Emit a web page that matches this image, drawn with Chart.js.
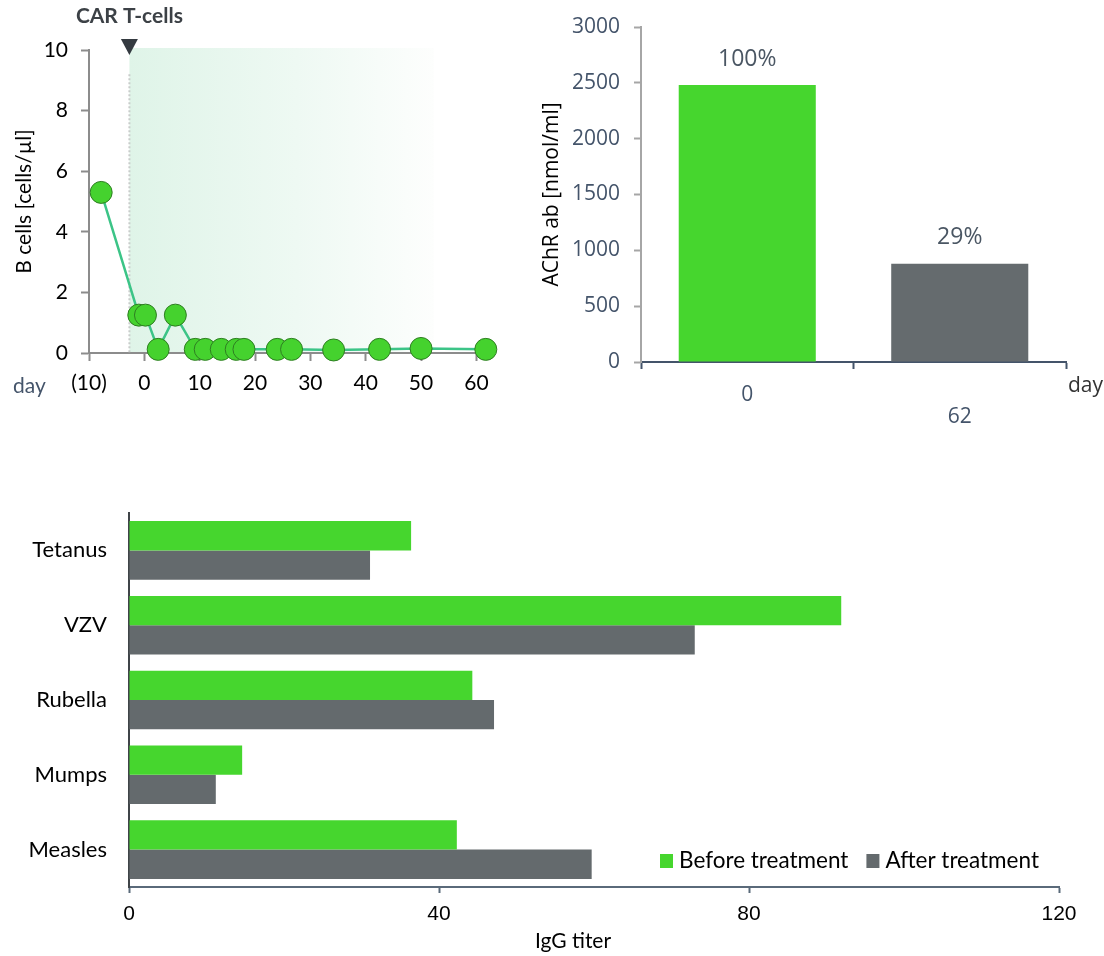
<!DOCTYPE html>
<html>
<head>
<meta charset="utf-8">
<script src="https://cdn.jsdelivr.net/npm/chart.js@4.4.1/dist/chart.umd.min.js"></script>
<style>
  html, body { margin: 0; padding: 0; background: #ffffff; }
  body { width: 1104px; height: 956px; position: relative; overflow: hidden; }
  canvas { position: absolute; display: block; }
  #bcells { left: 0; top: 0; }
  #achr { left: 520px; top: 0; }
  #igg { left: 0; top: 490px; }
</style>
</head>
<body>
<canvas id="bcells" width="520" height="400"></canvas>
<canvas id="achr" width="584" height="440"></canvas>
<canvas id="igg" width="1104" height="466"></canvas>
<script>
// ---- B-cell counts around CAR T-cell infusion ----
const bcellDays   = [-7.8, -1, 0.2, 2.5, 5.6, 9.2, 11, 13.9, 16.6, 18, 24, 26.6, 34.2, 42.5, 50, 61.7];
const bcellCounts = [5.3, 1.25, 1.25, 0.12, 1.25, 0.12, 0.12, 0.12, 0.12, 0.12, 0.12, 0.12, 0.1, 0.12, 0.15, 0.12];
const dayTicks      = [-10, 0, 10, 20, 30, 40, 50, 60];
const dayTickLabels = ['(10)', '0', '10', '20', '30', '40', '50', '60'];
const carTDay = -2.7;      // infusion day (arrow + dotted line)
const shadeEndDay = 52.3;  // end of the shaded follow-up window

// ---- AChR antibodies ----
const achrDays    = ['0', '62'];
const achrValues  = [2480, 880];
const achrPercent = ['100%', '29%'];

// ---- Vaccine IgG titers ----
const vaccines   = ['Tetanus', 'VZV', 'Rubella', 'Mumps', 'Measles'];
const iggBefore  = [36.4, 91.9, 44.3, 14.6, 42.3];
const iggAfter   = [31.1, 73.0, 47.1, 11.2, 59.7];
const iggTicks   = [0, 40, 80, 120];

const GREEN = '#46d62e';
const GREY  = '#656b6e';
const SLATE = '#44546a';

// fixed axis boxes so every plot area lands where it should
const fixWidth = w => scale => {
  scale.width = w;
  scale.paddingTop = 0;
  scale.paddingBottom = 0;
};
const fixHeight = h => scale => {
  scale.height = h;
  scale.paddingLeft = 0;
  scale.paddingRight = 0;
};

function bcellChart() {
  const decor = {
    id: 'carTDecor',
    beforeDraw(chart) {
      const { ctx, scales: { x, y } } = chart;
      const x0 = x.getPixelForValue(carTDay), x1 = x.getPixelForValue(shadeEndDay);
      const yTop = y.getPixelForValue(10) - 2, yBot = y.getPixelForValue(0);
      const g = ctx.createLinearGradient(x0, 0, x1, 0);
      g.addColorStop(0, '#dff4e8');
      g.addColorStop(0.55, '#eef9f3');
      g.addColorStop(1, '#fdfefd');
      ctx.save();
      ctx.fillStyle = g;
      ctx.fillRect(x0, yTop, x1 - x0, yBot - yTop);
      ctx.restore();
    },
    beforeDatasetsDraw(chart) {
      const { ctx, scales: { x, y } } = chart;
      const xc = x.getPixelForValue(carTDay);
      ctx.save();
      ctx.strokeStyle = '#c9cccb';
      ctx.lineWidth = 2;
      ctx.setLineDash([2, 2]);
      ctx.beginPath();
      ctx.moveTo(xc, y.getPixelForValue(9.2));
      ctx.lineTo(xc, y.getPixelForValue(0));
      ctx.stroke();
      ctx.restore();
    },
    afterDraw(chart) {
      const { ctx, scales: { x, y } } = chart;
      const xc = x.getPixelForValue(carTDay);
      const yt = y.getPixelForValue(10);
      ctx.save();
      // infusion arrow
      ctx.fillStyle = '#343a40';
      ctx.beginPath();
      ctx.moveTo(xc - 8.5, yt - 11);
      ctx.lineTo(xc + 8.5, yt - 11);
      ctx.lineTo(xc, yt + 5);
      ctx.closePath();
      ctx.fill();
      ctx.font = 'bold 21px Lato';
      ctx.fillStyle = '#3c4146';
      ctx.textAlign = 'center';
      ctx.textBaseline = 'middle';
      ctx.fillText('CAR T-cells', xc, 16);
      ctx.font = '21px Lato';
      ctx.fillStyle = SLATE;
      ctx.textAlign = 'left';
      ctx.fillText('day', 13, 386);
      ctx.restore();
    }
  };

  new Chart(document.getElementById('bcells'), {
    type: 'line',
    data: {
      datasets: [{
        data: bcellDays.map((d, i) => ({ x: d, y: bcellCounts[i] })),
        borderColor: '#3cc487',
        borderWidth: 2.5,
        pointRadius: 11,
        pointBackgroundColor: '#45d22e',
        pointBorderColor: '#2e7d22',
        pointBorderWidth: 1,
        tension: 0,
        clip: false
      }]
    },
    options: {
      responsive: false,
      animation: false,
      layout: { padding: { top: 50, right: 27, left: 0, bottom: 0 } },
      plugins: { legend: { display: false }, tooltip: { enabled: false } },
      scales: {
        x: {
          type: 'linear', min: -10, max: 63,
          afterBuildTicks: s => { s.ticks = dayTicks.map(v => ({ value: v })); },
          afterFit: fixHeight(47),
          ticks: {
            autoSkip: false, maxRotation: 0, padding: 10, color: '#000',
            font: { family: 'Lato', size: 21 },
            callback: v => dayTickLabels[dayTicks.indexOf(v)]
          },
          grid: { drawOnChartArea: false, drawTicks: true, tickLength: 8, tickColor: '#8c8c8c', tickWidth: 2 },
          border: { display: true, color: '#8c8c8c', width: 2 }
        },
        y: {
          min: 0, max: 10,
          afterFit: fixWidth(89),
          ticks: { stepSize: 2, padding: 13, color: '#000', font: { family: 'Lato', size: 21 } },
          grid: { drawOnChartArea: false, drawTicks: true, tickLength: 8, tickColor: '#8c8c8c', tickWidth: 2 },
          border: { display: true, color: '#8c8c8c', width: 2 },
          title: {
            display: true, text: 'B cells [cells/µl]', color: '#000',
            font: { family: 'Lato', size: 21 }, padding: { top: 12, bottom: 0 }
          }
        }
      }
    },
    plugins: [decor]
  });
}

function achrChart() {
  const labels = {
    id: 'percentLabels',
    afterDatasetsDraw(chart) {
      const { ctx } = chart;
      const meta = chart.getDatasetMeta(0);
      ctx.save();
      ctx.font = '23px "Open Sans"';
      ctx.fillStyle = '#4a5663';
      ctx.textAlign = 'center';
      ctx.textBaseline = 'middle';
      meta.data.forEach((bar, i) => ctx.fillText(achrPercent[i], bar.x, bar.y - 26));
      ctx.font = '21px "Open Sans"';
      ctx.fillStyle = '#333333';
      ctx.textAlign = 'left';
      ctx.fillText('day', chart.chartArea.right + 2, 386);
      ctx.restore();
    }
  };

  new Chart(document.getElementById('achr'), {
    type: 'bar',
    data: {
      labels: achrDays,
      datasets: [{
        data: achrValues,
        backgroundColor: [GREEN, GREY],
        barPercentage: 0.645,
        categoryPercentage: 1
      }]
    },
    options: {
      responsive: false,
      animation: false,
      layout: { padding: { top: 27, right: 38, left: 0, bottom: 0 } },
      plugins: { legend: { display: false }, tooltip: { enabled: false } },
      scales: {
        x: {
          offset: true,
          afterFit: fixHeight(78),
          ticks: {
            autoSkip: false, maxRotation: 0, padding: 15, color: SLATE,
            font: { family: 'Open Sans', size: 21, lineHeight: 1.05 },
            callback: (v, i) => (i % 2 === 1 ? ['', achrDays[i]] : achrDays[i])
          },
          grid: { offset: true, drawOnChartArea: false, drawTicks: true, tickLength: 7, tickColor: SLATE, tickWidth: 2 },
          border: { display: true, color: SLATE, width: 2 }
        },
        y: {
          min: 0, max: 3000,
          afterFit: fixWidth(121),
          ticks: {
            stepSize: 500, padding: 14, color: SLATE, font: { family: 'Open Sans', size: 21 },
            callback: v => String(v)
          },
          grid: { drawOnChartArea: false, drawTicks: true, tickLength: 7, tickColor: '#a6a6a6', tickWidth: 2 },
          border: { display: true, color: '#a6a6a6', width: 2 },
          title: {
            display: true, text: 'AChR ab [nmol/ml]', color: '#000',
            font: { family: 'Open Sans', size: 21 }, padding: { top: 19, bottom: 0 }
          }
        }
      }
    },
    plugins: [labels]
  });
}

function iggChart() {
  const legendAndTitle = {
    id: 'iggLegend',
    afterDraw(chart) {
      const { ctx, chartArea } = chart;
      ctx.save();
      ctx.font = '22.5px Lato';
      ctx.textBaseline = 'middle';
      ctx.textAlign = 'left';
      let x = 660;
      const yc = 371;
      chart.data.datasets.forEach(ds => {
        ctx.fillStyle = ds.backgroundColor;
        ctx.fillRect(x, yc - 7, 13, 14);
        ctx.fillStyle = '#000';
        ctx.fillText(ds.label, x + 19, yc);
        x += 19 + ctx.measureText(ds.label).width + 18;
      });
      ctx.font = '21px Lato';
      ctx.textAlign = 'center';
      ctx.fillText('IgG titer', (chartArea.left + chartArea.right) / 2 - 21, 451);
      ctx.restore();
    }
  };

  new Chart(document.getElementById('igg'), {
    type: 'bar',
    data: {
      labels: vaccines,
      datasets: [
        { label: 'Before treatment', data: iggBefore, backgroundColor: GREEN },
        { label: 'After treatment', data: iggAfter, backgroundColor: '#646a6d' }
      ]
    },
    options: {
      indexAxis: 'y',
      responsive: false,
      animation: false,
      datasets: { bar: { categoryPercentage: 0.783, barPercentage: 1 } },
      layout: { padding: { top: 23, right: 45, left: 0, bottom: 0 } },
      plugins: { legend: { display: false }, tooltip: { enabled: false } },
      scales: {
        x: {
          min: 0, max: 120,
          afterBuildTicks: s => { s.ticks = iggTicks.map(v => ({ value: v })); },
          afterFit: fixHeight(69),
          ticks: { padding: 9, color: '#000', font: { family: 'Liberation Sans', size: 21 } },
          grid: { drawOnChartArea: false, drawTicks: true, tickLength: 6, tickColor: '#5a6a7a', tickWidth: 2 },
          border: { display: true, color: '#5a6a7a', width: 2 }
        },
        y: {
          afterFit: fixWidth(129),
          ticks: { padding: 22, color: '#000', font: { family: 'Lato', size: 22 } },
          grid: { drawOnChartArea: false, drawTicks: false },
          border: { display: true, color: '#3f4448', width: 2 }
        }
      }
    },
    plugins: [legendAndTitle]
  });
}

Promise.all([
  document.fonts.load('21px Lato'),
  document.fonts.load('bold 21px Lato'),
  document.fonts.load('21px "Open Sans"'),
  document.fonts.load('21px "Liberation Sans"')
]).catch(() => {}).then(() => {
  bcellChart();
  achrChart();
  iggChart();
});
</script>
</body>
</html>
